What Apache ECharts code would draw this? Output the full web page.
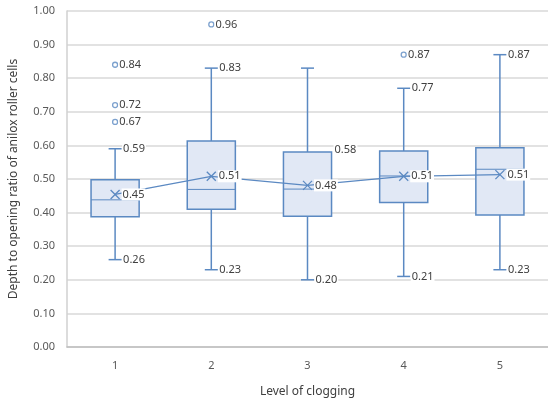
<!DOCTYPE html>
<html>
<head>
<meta charset="utf-8">
<script src="https://cdn.jsdelivr.net/npm/echarts@6/dist/echarts.min.js"></script>
<style>html,body{margin:0;padding:0;background:#fff;}#c{width:548px;height:403px;}</style>
</head>
<body>
<div id="c"></div>
<script>
// ---- data ----
const categories = ['1', '2', '3', '4', '5'];
const whiskerLow  = [0.26, 0.23, 0.20, 0.21, 0.23];
const quartile1   = [0.388, 0.41, 0.389, 0.43, 0.393];
const medians     = [0.438, 0.469, 0.47, 0.509, 0.529];
const quartile3   = [0.498, 0.613, 0.58, 0.583, 0.593];
const whiskerHigh = [0.59, 0.83, 0.83, 0.77, 0.87];
const means       = [0.454, 0.508, 0.481, 0.508, 0.513];
const outliers    = [[0, 0.67], [0, 0.72], [0, 0.84], [1, 0.96], [3, 0.87]];
const showHighLabel = [true, true, false, true, true];
const showQ3Label   = [false, false, true, false, false];
const yTicks = [0, 0.1, 0.2, 0.3, 0.4, 0.5, 0.6, 0.7, 0.8, 0.9, 1.0];

// ---- styles ----
const BLUE = '#5b89c2';
const FILL = '#e1e8f5';
const TXT = '#404040';
const FONT = '"Noto Sans", sans-serif';
const CAP = 6.5;

const boxData = categories.map((c, i) => [i, whiskerLow[i], quartile1[i], medians[i], quartile3[i], whiskerHigh[i]]);

// labels: [catIndex, value, kind]
const labelData = [];
categories.forEach((c, i) => {
  labelData.push([i, whiskerLow[i], 'whisker']);
  if (showHighLabel[i]) labelData.push([i, whiskerHigh[i], 'whisker']);
  if (showQ3Label[i]) labelData.push([i, quartile3[i], 'q3']);
  labelData.push([i, means[i], 'mean']);
});
outliers.forEach(o => labelData.push([o[0], o[1], 'outlier']));

function renderBox(params, api) {
  const i = api.value(0);
  const lo = api.coord([i, api.value(1)]);
  const q1 = api.coord([i, api.value(2)]);
  const md = api.coord([i, api.value(3)]);
  const q3 = api.coord([i, api.value(4)]);
  const hi = api.coord([i, api.value(5)]);
  const cx = lo[0];
  const bw = api.size([1, 0])[0] * 0.5;
  const ls = { stroke: BLUE, lineWidth: 1.5 };
  return {
    type: 'group',
    children: [
      { type: 'line', shape: { x1: cx, y1: hi[1], x2: cx, y2: q3[1] }, style: ls },
      { type: 'line', shape: { x1: cx, y1: q1[1], x2: cx, y2: lo[1] }, style: ls },
      { type: 'line', shape: { x1: cx - CAP, y1: hi[1], x2: cx + CAP, y2: hi[1] }, style: ls },
      { type: 'line', shape: { x1: cx - CAP, y1: lo[1], x2: cx + CAP, y2: lo[1] }, style: ls },
      { type: 'rect', shape: { x: cx - bw / 2, y: q3[1], width: bw, height: q1[1] - q3[1] }, style: { fill: FILL, stroke: BLUE, lineWidth: 1.5 } },
      { type: 'line', shape: { x1: cx - bw / 2, y1: md[1], x2: cx + bw / 2, y2: md[1] }, style: { stroke: BLUE, lineWidth: 1 } }
    ]
  };
}

function renderMean(params, api) {
  const p = api.coord([api.value(0), api.value(1)]);
  const s = 4.5;
  const st = { stroke: BLUE, lineWidth: 1.3 };
  return {
    type: 'group',
    children: [
      { type: 'line', shape: { x1: p[0] - s, y1: p[1] - s, x2: p[0] + s, y2: p[1] + s }, style: st },
      { type: 'line', shape: { x1: p[0] - s, y1: p[1] + s, x2: p[0] + s, y2: p[1] - s }, style: st }
    ]
  };
}

function renderLabel(params, api) {
  const i = api.value(0);
  const v = api.value(1);
  const kind = labelData[params.dataIndex][2];
  const p = api.coord([i, v]);
  const bw = api.size([1, 0])[0] * 0.5;
  let dx = CAP + 0.5, dy = 0;
  if (kind === 'mean') dx = 6.5;
  if (kind === 'outlier') dx = 3.2;
  if (kind === 'q3') { dx = bw / 2 + 2; dy = -2; }
  return {
    type: 'text',
    style: {
      text: v.toFixed(2),
      x: p[0] + dx, y: p[1] + dy,
      fill: TXT, font: '11px ' + FONT,
      textAlign: 'left', textVerticalAlign: 'middle',
      backgroundColor: '#ffffff', padding: [1, 1, 0, 1]
    }
  };
}

const chart = echarts.init(document.getElementById('c'));
chart.setOption({
  animation: false,
  backgroundColor: '#fff',
  textStyle: { fontFamily: FONT },
  grid: { left: 66, top: 11, width: 485, height: 339, show: false },
  xAxis: {
    type: 'category',
    data: categories,
    boundaryGap: true,
    name: 'Level of clogging',
    nameLocation: 'middle',
    nameGap: 39,
    nameTextStyle: { color: TXT, fontSize: 12, fontFamily: FONT },
    axisLine: { show: true, lineStyle: { color: '#bfbfbf', width: 1.5 } },
    axisTick: { show: false },
    axisLabel: { color: '#595959', fontSize: 11, margin: 13, fontFamily: FONT },
    splitLine: { show: false }
  },
  yAxis: {
    type: 'value',
    min: 0, max: 1, interval: 0.1,
    name: 'Depth to opening ratio of anilox roller cells',
    nameLocation: 'middle',
    nameGap: 47,
    nameTextStyle: { color: TXT, fontSize: 12, fontFamily: FONT },
    axisLine: { show: true, lineStyle: { color: '#d0d0d0', width: 1.5 } },
    axisTick: { show: false },
    axisLabel: {
      color: '#595959', fontSize: 11, margin: 12, fontFamily: FONT,
      formatter: v => {
        const t = yTicks.find(x => Math.abs(x - v) < 1e-6);
        return (t !== undefined ? t : v).toFixed(2);
      }
    },
    splitLine: { show: true, lineStyle: { color: '#d9d9d9', width: 1.5 } }
  },
  series: [
    {
      type: 'custom', name: 'box', renderItem: renderBox,
      encode: { x: 0, y: [1, 2, 3, 4, 5] },
      data: boxData, z: 2, silent: true
    },
    {
      type: 'line', name: 'mean line', data: means,
      symbol: 'none', lineStyle: { color: BLUE, width: 1.2 }, z: 3, silent: true
    },
    {
      type: 'custom', name: 'mean', renderItem: renderMean,
      encode: { x: 0, y: 1 },
      data: categories.map((c, i) => [i, means[i]]), z: 4, silent: true
    },
    {
      type: 'scatter', name: 'outliers', data: outliers,
      symbol: 'circle', symbolSize: 5,
      itemStyle: { color: '#fff', borderColor: BLUE, borderWidth: 1.3 }, z: 4, silent: true
    },
    {
      type: 'custom', name: 'labels', renderItem: renderLabel,
      encode: { x: 0, y: 1 },
      data: labelData.map(d => [d[0], d[1]]), z: 5, silent: true
    }
  ]
});
</script>
</body>
</html>
